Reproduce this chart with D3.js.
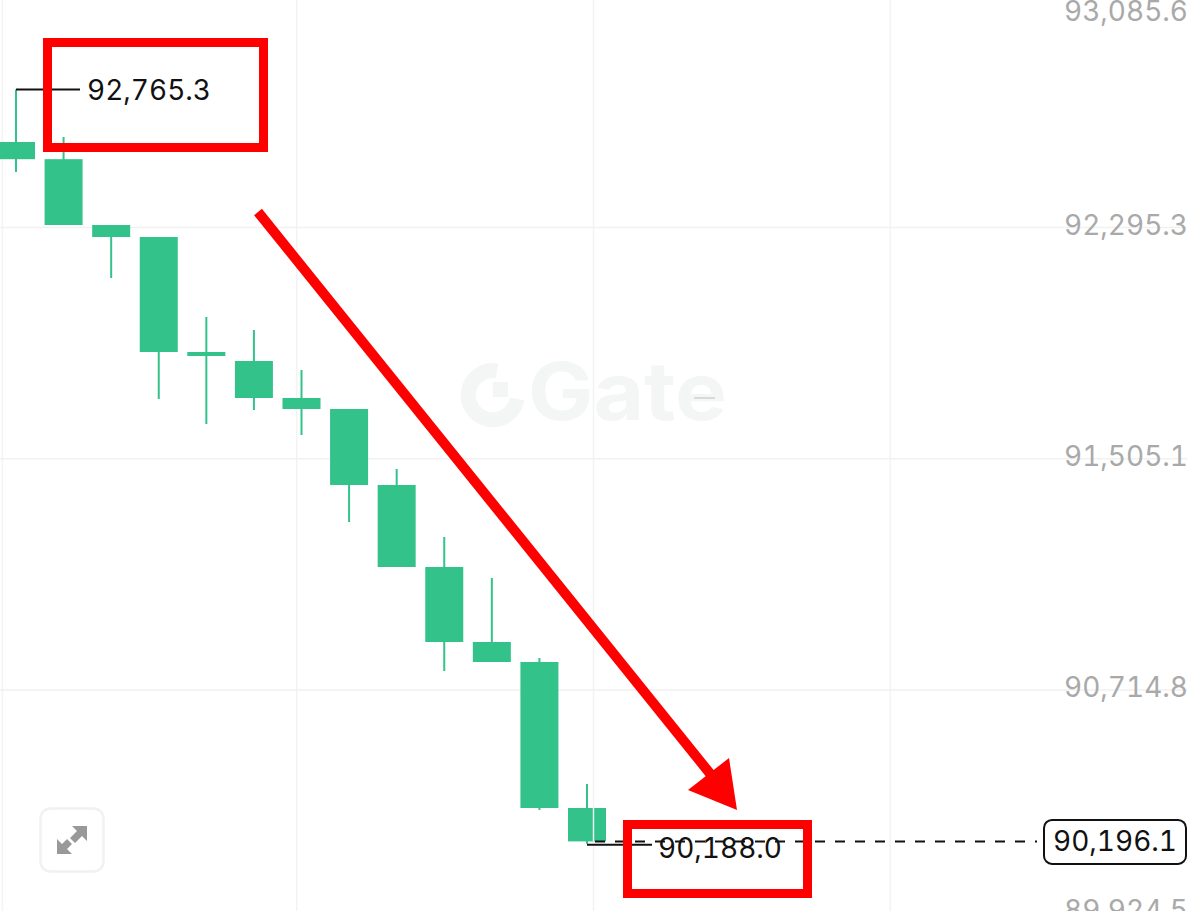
<!DOCTYPE html>
<html lang="en">
<head>
<meta charset="UTF-8">
<title>Gate candlestick</title>
<script src="https://d3js.org/d3.v7.min.js"></script>
<style>
    body { margin: 0; background: #fff; }
    svg { display: block; font-family: Inter, "Liberation Sans", sans-serif; }
    .value { font-size: 28px; fill: #111; font-variant-numeric: tabular-nums; }
    .axis-label { font-size: 28px; fill: #a9a9a9; font-variant-numeric: tabular-nums; }
</style>
</head>
<body>
<div id="chart"></div>
<script>
    // values
    const opens  = [92585.7, 92527.0, 92302.1, 92261.1, 91868.2, 91837.5, 91711.1, 91673.5, 91413.8, 91133.7, 90877.4, 90809.1, 90310.3];
    const closes = [92527.0, 92302.1, 92261.1, 91868.2, 91854.6, 91711.1, 91673.5, 91413.8, 91133.7, 90877.4, 90809.1, 90310.3, 90196.1];
    const highs  = [92765.3, 92602.8, 92302.1, 92261.1, 91987.8, 91943.4, 91806.7, 91673.5, 91468.5, 91236.2, 91096.1, 90822.8, 90392.3];
    const lows   = [92483.2, 92302.1, 92121.1, 91707.6, 91622.3, 91670.1, 91584.6, 91287.4, 91133.7, 90778.3, 90809.1, 90303.4, 90188.0];
    const priceTicks = [93085.6, 92295.3, 91505.1, 90714.8, 89924.5];
    const lastPrice = 90196.1;
    const maxPrice = 92765.3;
    const minPrice = 90188.0;

    const width = 1200;
    const height = 911;
    const plotRight = 1187;
    const green = "#33c28a";
    const fmt = d3.format(",.1f");

    const x = d3.scaleLinear().domain([0, 12]).range([16, 587]);
    const y = d3.scaleLinear().domain([93085.6, 89924.5]).range([-4.3, 920.9]);
    const bodyW = 38;

    const svg = d3.select("#chart").append("svg")
        .attr("width", width)
        .attr("height", height);

    // vertical grid, quarters of the plot
    svg.append("g").selectAll("line")
        .data([0.002, 0.25, 0.5, 0.75])
        .join("line")
        .attr("x1", d => d * plotRight)
        .attr("x2", d => d * plotRight)
        .attr("y1", 0)
        .attr("y2", height)
        .attr("stroke", "#f3f3f3")
        .attr("stroke-width", 1.5);

    // price axis, lines double as horizontal grid
    const yAxis = d3.axisRight(y)
        .tickValues(priceTicks)
        .tickFormat(fmt)
        .tickSize(-plotRight);

    const axisG = svg.append("g")
        .attr("transform", `translate(${plotRight},0)`)
        .call(yAxis)
        .attr("font-family", null)
        .attr("font-size", null);
    axisG.select(".domain").remove();
    axisG.selectAll(".tick line").attr("stroke", "#f1f1f1").attr("stroke-width", 1.5);
    axisG.selectAll(".tick text")
        .attr("class", "axis-label")
        .attr("x", 1)
        .attr("text-anchor", "end")
        .attr("fill", null)
        .attr("dy", "0.36em")
        .attr("y", d => d === priceTicks[0] ? 15 : d === priceTicks[4] ? -11 : -3);

    // watermark
    const mark = svg.append("g").attr("fill", "#f4f6f6");
    mark.append("path")
        .attr("transform", "translate(493,395)")
        .attr("fill", "none")
        .attr("stroke", "#f4f6f6")
        .attr("stroke-width", 15)
        .attr("d", "M 4 -24 A 24.5 24.5 0 1 0 24 4");
    mark.append("rect").attr("x", 493).attr("y", 382).attr("width", 15).attr("height", 15);
    mark.append("text")
        .attr("x", 528)
        .attr("y", 420)
        .attr("font-family", "Inter")
        .attr("font-weight", 700)
        .attr("font-size", 80)
        .attr("textLength", 199)
        .attr("lengthAdjust", "spacingAndGlyphs")
        .text("Gate");
    svg.append("line")
        .attr("x1", 694).attr("x2", 715).attr("y1", 398).attr("y2", 398)
        .attr("stroke", "#bbb").attr("stroke-width", 1);

    // candles
    const candles = svg.append("g");
    candles.selectAll("line")
        .data(opens)
        .join("line")
        .attr("x1", (d, i) => x(i))
        .attr("x2", (d, i) => x(i))
        .attr("y1", (d, i) => y(highs[i]))
        .attr("y2", (d, i) => y(lows[i]))
        .attr("stroke", green)
        .attr("stroke-width", 2);
    candles.selectAll("rect")
        .data(opens)
        .join("rect")
        .attr("x", (d, i) => x(i) - bodyW / 2)
        .attr("y", (d, i) => y(opens[i]))
        .attr("width", bodyW)
        .attr("height", (d, i) => y(closes[i]) - y(opens[i]))
        .attr("fill", green);
    // grid line shows through the last candle
    svg.append("line")
        .attr("x1", 0.5 * plotRight).attr("x2", 0.5 * plotRight)
        .attr("y1", y(opens[12])).attr("y2", y(closes[12]))
        .attr("stroke", "#e8f6f0").attr("stroke-width", 1.5);

    // last price line and tag
    svg.append("line")
        .attr("x1", x(12) + 8)
        .attr("x2", 1037)
        .attr("y1", y(lastPrice))
        .attr("y2", y(lastPrice))
        .attr("stroke", "#111")
        .attr("stroke-width", 2)
        .attr("stroke-dasharray", "10 10");
    svg.append("rect")
        .attr("x", 1044).attr("y", y(lastPrice) - 21.5)
        .attr("width", 142).attr("height", 44)
        .attr("rx", 8)
        .attr("fill", "#fff")
        .attr("stroke", "#111")
        .attr("stroke-width", 2);
    svg.append("text")
        .attr("class", "value")
        .attr("x", 1115).attr("y", y(lastPrice))
        .attr("dy", "0.36em")
        .attr("text-anchor", "middle")
        .text(fmt(lastPrice));

    // high / low markers
    svg.append("line")
        .attr("x1", x(0)).attr("x2", x(0) + 64)
        .attr("y1", y(maxPrice)).attr("y2", y(maxPrice))
        .attr("stroke", "#111").attr("stroke-width", 2);
    svg.append("text")
        .attr("class", "value")
        .attr("x", x(0) + 71).attr("y", y(maxPrice))
        .attr("dy", "0.36em")
        .text(fmt(maxPrice));

    svg.append("line")
        .attr("x1", x(12)).attr("x2", x(12) + 65)
        .attr("y1", y(minPrice) + 1).attr("y2", y(minPrice) + 1)
        .attr("stroke", "#111").attr("stroke-width", 2);
    svg.append("text")
        .attr("class", "value")
        .attr("x", x(12) + 71).attr("y", y(minPrice) + 4)
        .attr("dy", "0.36em")
        .text(fmt(minPrice));

    // red overlays
    svg.append("rect")
        .attr("x", 47.5).attr("y", 42.5).attr("width", 216).attr("height", 105)
        .attr("fill", "none").attr("stroke", "#fe0000").attr("stroke-width", 9);
    svg.append("rect")
        .attr("x", 627.5).attr("y", 824.5).attr("width", 180).attr("height", 69)
        .attr("fill", "none").attr("stroke", "#fe0000").attr("stroke-width", 9);
    svg.append("line")
        .attr("x1", 258).attr("y1", 212).attr("x2", 712).attr("y2", 776)
        .attr("stroke", "#fe0000").attr("stroke-width", 10);
    svg.append("polygon")
        .attr("points", "737,810 688,790 729,758")
        .attr("fill", "#fe0000");

    // expand button: two arrows pointing out of the centre, gap between them
    const btn = svg.append("g").attr("transform", "translate(72,840)");
    btn.append("rect")
        .attr("x", -31.5).attr("y", -31.5).attr("width", 63).attr("height", 63)
        .attr("rx", 10)
        .attr("fill", "#fff").attr("stroke", "#f1f1f1").attr("stroke-width", 2.5);
    btn.append("path")
        .attr("d", "M0 -14 L15 -14 L15 1 L10 -4 L3 3 L-2 -2 L5 -9 Z M0 14 L-15 14 L-15 -1 L-10 4 L-5 -1 L0 4 L-5 9 Z")
        .attr("fill", "#999");
</script>
</body>
</html>
